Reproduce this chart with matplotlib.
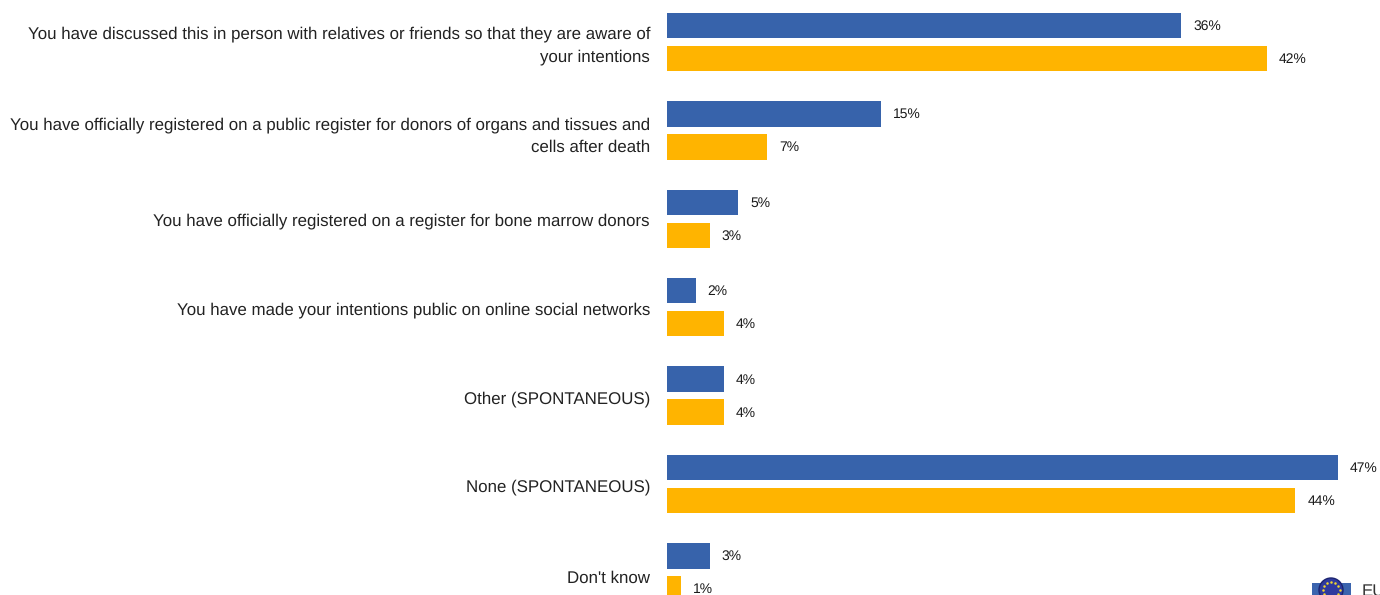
import matplotlib
matplotlib.use("Agg")
import matplotlib.pyplot as plt
from matplotlib.patches import Rectangle, Ellipse
from matplotlib.transforms import ScaledTranslation
import numpy as np

categories = [
    "You have discussed this in person with relatives or friends so that they are aware of\nyour intentions",
    "You have officially registered on a public register for donors of organs and tissues and\ncells after death",
    "You have officially registered on a register for bone marrow donors",
    "You have made your intentions public on online social networks",
    "Other (SPONTANEOUS)",
    "None (SPONTANEOUS)",
    "Don't know",
]
series_a = [36, 15, 5, 2, 4, 47, 3]
series_b = [42, 7, 3, 4, 4, 44, 1]
label_shift_px = [-1.5, 0.5, 1, 1, 2, 1, 4]
BLUE = "#3763AB"
ORANGE = "#FFB400"
W, H = 1380, 595

LABEL_SIZE = 12.19
VALUE_SIZE = 10.0
plt.rcParams["font.family"] = ["Liberation Sans", "DejaVu Sans"]
plt.rcParams["text.hinting"] = "no_hinting"
plt.rcParams["text.hinting_factor"] = 8

fig = plt.figure(figsize=(W / 100, H / 100), dpi=100, facecolor="white")
ax = fig.add_axes([667 / W, 0, (W - 667) / W, 1])
px_per_val = 14.28
px_per_cat = 88.4
ax.set_xlim(0, (W - 667) / px_per_val)
ax.set_ylim((H - 42) / px_per_cat, -42 / px_per_cat)
for s in ax.spines.values():
    s.set_visible(False)

y = np.arange(len(categories))
off = 16.5 / px_per_cat
bh = 25.5 / px_per_cat
ax.barh(y - off, series_a, height=bh, color=BLUE, linewidth=0)
ax.barh(y + off, series_b, height=bh, color=ORANGE, linewidth=0)

for yy, a, b in zip(y, series_a, series_b):
    for yv, v in ((yy - off, a), (yy + off, b)):
        ax.annotate(f"{v}%", (v, yv), xytext=(12 * 0.72, -0.8 * 0.72), textcoords="offset points",
                    ha="left", va="center", fontsize=VALUE_SIZE, color="#1a1a1a", annotation_clip=False)

ax.set_xticks([])
ax.set_yticks(y)
ax.set_yticklabels(categories, fontsize=LABEL_SIZE, color="#222222", linespacing=1.57, ha="right")
ax.tick_params(axis="y", length=0, pad=17 * 0.72)
for t, s in zip(ax.get_yticklabels(), label_shift_px):
    t.set_transform(t.get_transform() + ScaledTranslation(0, -s / 100, fig.dpi_scale_trans))

# clipped legend at the bottom right: EU flag and label
fx = lambda p: p / W
fy = lambda p: 1 - p / H
fig.patches.append(Rectangle((fx(1312), fy(596)), 39 / W, 13 / H, transform=fig.transFigure,
                             facecolor="#3B64AE", edgecolor="none"))
fig.patches.append(Ellipse((fx(1331), fy(590)), 24 / W, 24 / H, transform=fig.transFigure,
                           facecolor="#2F3A9E", edgecolor="#1C2470", linewidth=1))
ang = np.deg2rad(np.arange(0, 360, 30))
fig.add_artist(plt.Line2D(fx(1331 + 8.5 * np.cos(ang)), fy(590 + 8.5 * np.sin(ang)), linestyle="none",
                          marker="o", markersize=1.8, color="#F2D62E", markeredgewidth=0,
                          transform=fig.transFigure))
fig.text(fx(1362), fy(591), "EU", fontsize=LABEL_SIZE, color="#333333", ha="left", va="center")

fig.savefig("out.png", dpi=100, facecolor="white")
